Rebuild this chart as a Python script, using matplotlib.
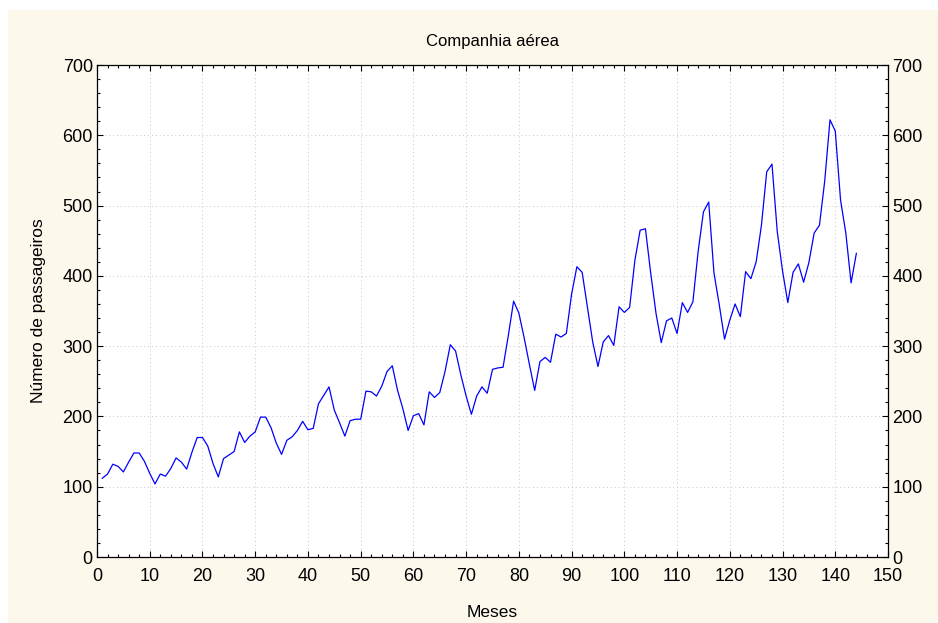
import numpy as np
import matplotlib.pyplot as plt
from matplotlib.ticker import MultipleLocator
from matplotlib.patches import Rectangle

plt.rcParams['font.family'] = ['Liberation Sans', 'DejaVu Sans']

# passageiros mensais (1949-1960)
passageiros = [
    112, 118, 132, 129, 121, 135, 148, 148, 136, 119, 104, 118,
    115, 126, 141, 135, 125, 149, 170, 170, 158, 133, 114, 140,
    145, 150, 178, 163, 172, 178, 199, 199, 184, 162, 146, 166,
    171, 180, 193, 181, 183, 218, 230, 242, 209, 191, 172, 194,
    196, 196, 236, 235, 229, 243, 264, 272, 237, 211, 180, 201,
    204, 188, 235, 227, 234, 264, 302, 293, 259, 229, 203, 229,
    242, 233, 267, 269, 270, 315, 364, 347, 312, 274, 237, 278,
    284, 277, 317, 313, 318, 374, 413, 405, 355, 306, 271, 306,
    315, 301, 356, 348, 355, 422, 465, 467, 404, 347, 305, 336,
    340, 318, 362, 348, 363, 435, 491, 505, 404, 359, 310, 337,
    360, 342, 406, 396, 420, 472, 548, 559, 463, 407, 362, 405,
    417, 391, 419, 461, 472, 535, 622, 606, 508, 461, 390, 432,
]
meses = np.arange(1, len(passageiros) + 1)

W, H = 938, 623
fig = plt.figure(figsize=(W / 100, H / 100), dpi=100)
fig.patch.set_facecolor('white')
fundo = Rectangle((8 / W, 0), 1 - 8 / W, 1 - 10 / H,
                  transform=fig.transFigure, facecolor='#fdf8ec',
                  edgecolor='none', zorder=-10)
fig.patches.append(fundo)

ax = fig.add_axes([97 / W, 1 - 557 / H, (888 - 97) / W, (557 - 65) / H])
ax.set_zorder(5)
ax.set_facecolor('white')
ax.plot(meses, passageiros, color='#0000ff', lw=0.9)

ax.set_xlim(0, 150)
ax.set_ylim(0, 700)
ax.xaxis.set_major_locator(MultipleLocator(10))
ax.xaxis.set_minor_locator(MultipleLocator(2))
ax.yaxis.set_major_locator(MultipleLocator(100))
ax.yaxis.set_minor_locator(MultipleLocator(20))
ax.tick_params(which='both', direction='in', top=True, right=True,
               labelright=True, labelsize=13, width=0.8)
ax.tick_params(which='major', length=4)
ax.tick_params(which='minor', length=2.5)
ax.tick_params(axis='x', which='major', pad=8)
ax.tick_params(axis='y', which='major', pad=3)
ax.grid(True, which='major', linestyle=(0, (1, 3)), color='#c8c8c8', lw=0.7)
for s in ax.spines.values():
    s.set_linewidth(0.9)

ax.set_title('Companhia aérea', fontsize=12, pad=14)
ax.set_xlabel('Meses', fontsize=12.5, labelpad=14)
ax.set_ylabel('Número de passageiros', fontsize=12.5, labelpad=12)

fig.savefig('out.png', dpi=100, facecolor=fig.get_facecolor())
